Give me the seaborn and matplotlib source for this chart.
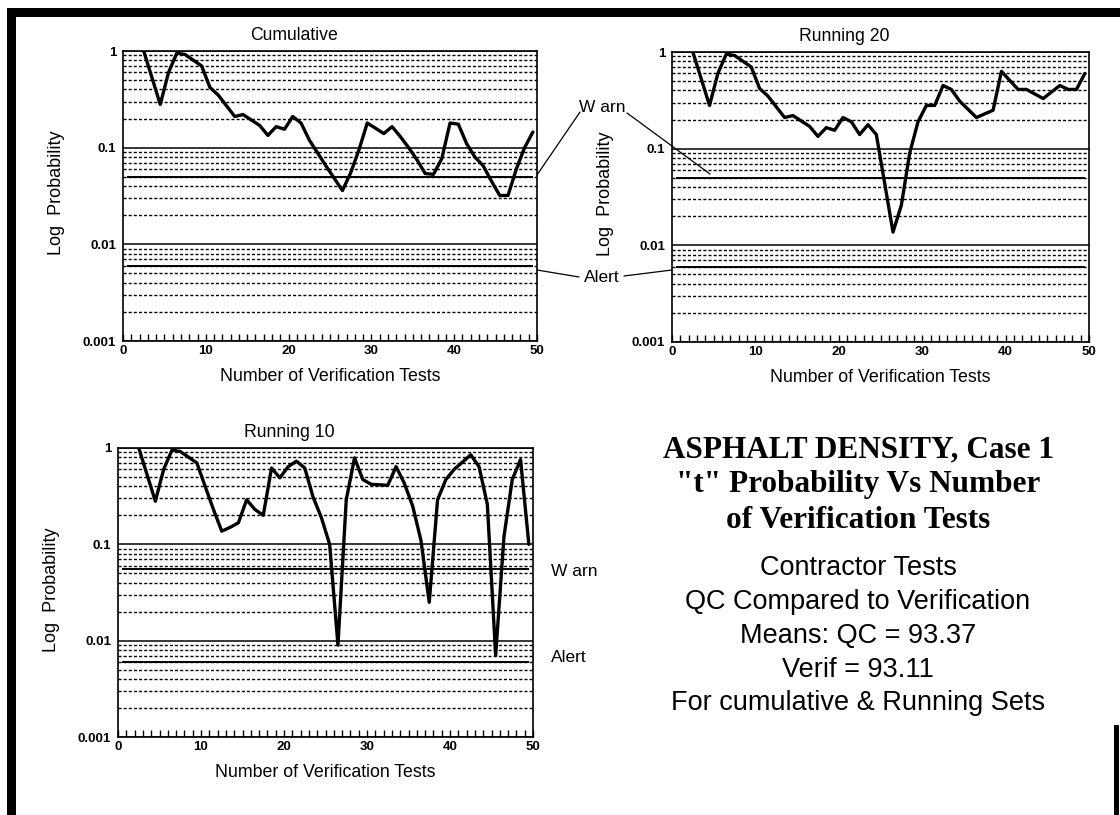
"""
ASPHALT DENSITY, Case 1 - "t" probability vs number of verification tests.
Three log-scale panels (cumulative, running 20, running 10) plus a text block.
"""

import numpy as np
import pandas as pd
import seaborn as sns
import matplotlib.pyplot as plt
from matplotlib.lines import Line2D
from matplotlib.patches import Rectangle
from matplotlib.ticker import (FixedLocator, FixedFormatter, LogLocator,
                               MultipleLocator, NullFormatter)

# ============================
# Data
# ============================
# test number n (points sit between tick marks, at n - 0.5) and "t" probability

cum_n = [3, 5, 6, 7, 8, 10, 11, 12, 14, 15, 17, 18, 19, 20, 21, 22, 23, 25,
         27, 28, 29, 30, 32, 33, 34, 35, 36, 37, 38, 39, 40, 41, 42, 43, 44,
         45, 46, 47, 48, 49, 50]
cum_p = [1.0, 0.28, 0.6, 0.95, 0.92, 0.70, 0.42, 0.35, 0.21, 0.22, 0.17,
         0.134, 0.165, 0.155, 0.21, 0.18, 0.12, 0.065, 0.036, 0.055, 0.095,
         0.18, 0.14, 0.165, 0.13, 0.1, 0.075, 0.054, 0.053, 0.077, 0.18,
         0.175, 0.11, 0.08, 0.065, 0.045, 0.032, 0.032, 0.06, 0.1, 0.145]

r20_n = [3, 5, 6, 7, 8, 10, 11, 12, 14, 15, 17, 18, 19, 20, 21, 22, 23, 24,
         25, 27, 28, 29, 30, 31, 32, 33, 34, 35, 37, 39, 40, 42, 43, 45, 47,
         48, 49, 50]
r20_p = [1.0, 0.28, 0.6, 0.95, 0.92, 0.70, 0.42, 0.35, 0.21, 0.22, 0.17,
         0.134, 0.165, 0.155, 0.21, 0.19, 0.14, 0.177, 0.14, 0.0137, 0.026,
         0.09, 0.19, 0.28, 0.28, 0.45, 0.41, 0.31, 0.21, 0.25, 0.63, 0.41,
         0.41, 0.33, 0.45, 0.41, 0.41, 0.6]

r10_n = [3, 5, 6, 7, 8, 10, 11, 12, 13, 14, 15, 16, 17, 18, 19, 20, 21, 22,
         23, 24, 25, 26, 27, 28, 29, 30, 31, 33, 34, 35, 36, 37, 38, 39, 40,
         41, 43, 44, 45, 46, 47, 48, 49, 50]
r10_p = [1.0, 0.28, 0.6, 0.95, 0.92, 0.70, 0.40, 0.23, 0.137, 0.15, 0.167,
         0.29, 0.23, 0.20, 0.62, 0.49, 0.64, 0.73, 0.62, 0.31, 0.19, 0.10,
         0.009, 0.29, 0.79, 0.47, 0.42, 0.41, 0.64, 0.43, 0.25, 0.11, 0.025,
         0.29, 0.47, 0.6, 0.85, 0.64, 0.26, 0.007, 0.12, 0.47, 0.76, 0.1]

panel_titles = ["Cumulative", "Running 20", "Running 10"]
warn_levels = [0.05, 0.05, 0.055]
alert_levels = [0.006, 0.006, 0.006]

y_ticks = [1, 0.1, 0.01, 0.001]
y_tick_labels = ["1", "0.1", "0.01", "0.001"]
x_ticks = [0, 10, 20, 30, 40, 50]

heading_lines = ["ASPHALT DENSITY, Case 1",
                 "\"t\" Probability Vs Number",
                 "of Verification Tests"]
note_lines = ["Contractor Tests",
              "QC Compared to Verification",
              "Means: QC = 93.37",
              "Verif = 93.11",
              "For cumulative & Running Sets"]

# ============================
# Figure setup
# ============================
W, H = 1120, 815

sns.set_theme(style="white")
plt.rcParams["font.family"] = ["Liberation Sans", "DejaVu Sans"]


def fx(px):
    return px / W


def fy(py):
    return 1 - py / H


def box(left, top, right, bottom):
    """Axes rectangle from pixel edges."""
    return [fx(left), fy(bottom), (right - left) / W, (bottom - top) / H]


def draw_panel(ax, n, p, title, warn, alert):
    df = pd.DataFrame({"x": np.asarray(n) - 0.5, "p": p})

    # warn / alert reference series
    ax.hlines([warn, alert], 0.5, 49.5, color="black", lw=1.4, zorder=2)
    sns.lineplot(data=df, x="x", y="p", ax=ax, color="black", lw=2.4,
                 estimator=None, sort=False, zorder=3)

    ax.set_yscale("log")
    ax.set_ylim(0.001, 1)
    ax.set_xlim(0, 50)

    ax.yaxis.set_major_locator(FixedLocator(y_ticks))
    ax.yaxis.set_major_formatter(FixedFormatter(y_tick_labels))
    ax.yaxis.set_minor_locator(LogLocator(base=10, subs=np.arange(2, 10)))
    ax.yaxis.set_minor_formatter(NullFormatter())
    ax.xaxis.set_major_locator(FixedLocator(x_ticks))
    ax.xaxis.set_minor_locator(MultipleLocator(1))

    ax.grid(False)
    ax.yaxis.grid(True, which="major", color="black", lw=1.1, ls="-")
    ax.yaxis.grid(True, which="minor", color="black", lw=1.0,
                  ls=(0, (2.2, 1.5)))
    ax.set_axisbelow(True)

    ax.tick_params(axis="x", which="both", direction="in", length=5,
                   width=1, color="black", bottom=True, top=False, pad=3)
    ax.tick_params(axis="y", which="both", length=0, pad=5)
    for lab in ax.get_xticklabels() + ax.get_yticklabels():
        lab.set_fontsize(9.5)
        lab.set_fontweight("bold")
        lab.set_color("black")

    for sp in ax.spines.values():
        sp.set_visible(True)
        sp.set_color("black")
        sp.set_linewidth(1.2)

    ax.set_xlabel("Number of Verification Tests", fontsize=12.8,
                  color="black")
    ax.xaxis.set_label_coords(0.5, -0.124)
    ax.xaxis.label.set_va("center")
    ax.set_ylabel("Log  Probability", fontsize=13, color="black")
    ax.yaxis.set_label_coords(-0.16, 0.51)
    ax.yaxis.label.set_va("center")

    ax.text(0.413, 1.052, title, transform=ax.transAxes, ha="center",
            va="center", fontsize=12.7, color="black")


fig = plt.figure(figsize=(W / 100, H / 100), dpi=100)
fig.patch.set_facecolor("white")

ax1 = fig.add_axes(box(123, 51, 537, 341))
ax2 = fig.add_axes(box(672, 52, 1089, 342))
ax3 = fig.add_axes(box(118, 448, 533, 737))

series = [(cum_n, cum_p), (r20_n, r20_p), (r10_n, r10_p)]
for ax, (n, p), title, warn, alert in zip([ax1, ax2, ax3], series,
                                          panel_titles, warn_levels,
                                          alert_levels):
    draw_panel(ax, n, p, title, warn, alert)

# ============================
# Warn / Alert call-outs
# ============================
label_kw = dict(fontsize=12.5, color="black", ha="left", va="center")
fig.text(fx(579), fy(108), "W arn", **label_kw)
fig.text(fx(584), fy(277), "Alert", **label_kw)
fig.text(fx(551), fy(572), "W arn", **label_kw)
fig.text(fx(551), fy(658), "Alert", **label_kw)

leaders = [((537, 175), (580, 112)),
           ((627, 113), (710, 174)),
           ((537, 270), (579, 277)),
           ((624, 276), (672, 270))]
for (x0, y0), (x1, y1) in leaders:
    fig.add_artist(Line2D([fx(x0), fx(x1)], [fy(y0), fy(y1)],
                          transform=fig.transFigure, color="black", lw=0.9))

# ============================
# Text block
# ============================
for line, base in zip(heading_lines, [457, 492, 528]):
    fig.text(fx(858), fy(base), line, ha="center", va="baseline",
             fontsize=22.5, fontweight="bold", color="black",
             family=["Liberation Serif", "DejaVu Serif"])
for line, base in zip(note_lines, [575, 609, 643, 677, 710]):
    fig.text(fx(858), fy(base), line, ha="center", va="baseline",
             fontsize=19.5, color="black")

# ============================
# Black frame round the page
# ============================
frame = [(7, 8, 16, 815), (7, 8, 1120, 17), (1114, 725, 1119, 815)]
for l, t, r, b in frame:
    fig.add_artist(Rectangle((fx(l), fy(b)), (r - l) / W, (b - t) / H,
                             transform=fig.transFigure, color="black",
                             lw=0))

fig.savefig("out.png", dpi=100)
plt.close(fig)
